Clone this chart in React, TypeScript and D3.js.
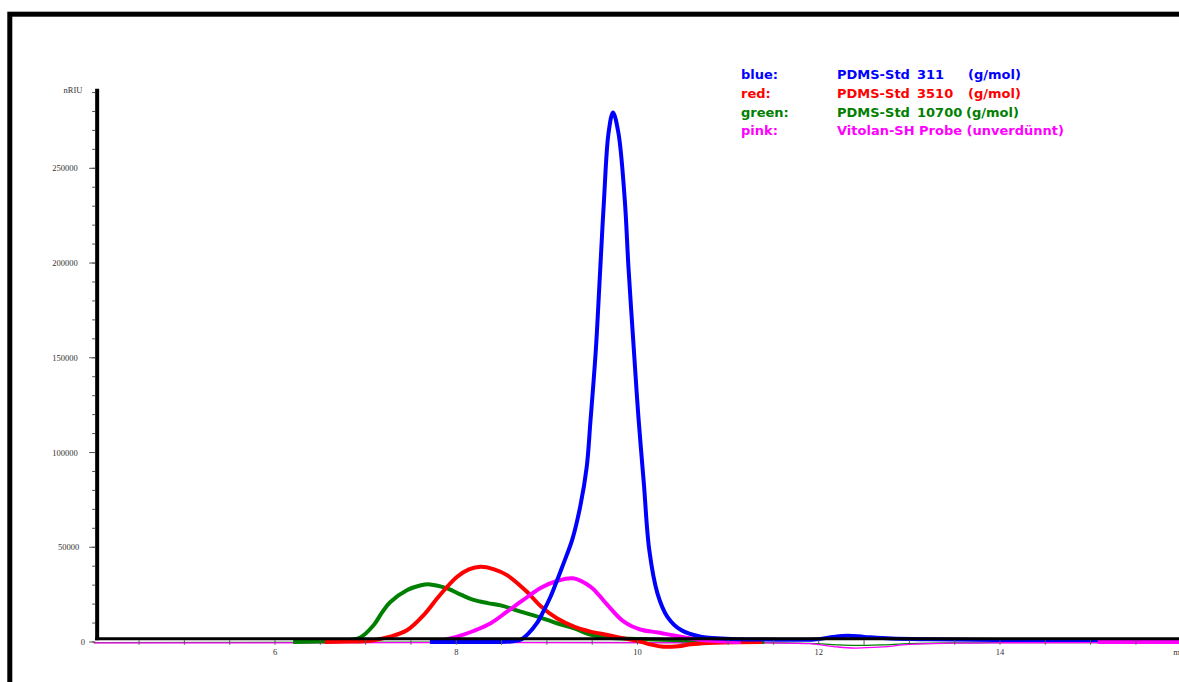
import React from "react";
import * as d3 from "d3";

const W = 1179;
const H = 682;

// ---- data (retention time in min, signal in nRIU) ----
const blueT = [7.71, 8.2, 8.49, 8.6, 8.71, 8.8, 8.89, 8.96, 9.04, 9.1, 9.17, 9.22, 9.28, 9.37, 9.44, 9.48, 9.54, 9.59, 9.63, 9.68, 9.73, 9.79, 9.86, 9.9, 9.96, 10.01, 10.07, 10.13, 10.22, 10.33, 10.48, 10.7, 11.14, 11.6, 11.95, 12.15, 12.32, 12.5, 12.8, 13.2, 14.0, 15.08];
const blueV = [0, 0, 0, 300, 1200, 4700, 9900, 16000, 23900, 31000, 39700, 46000, 54000, 72000, 92500, 116000, 154000, 198000, 233000, 268500, 279500, 268500, 233000, 198000, 154000, 118800, 83700, 48500, 25700, 13300, 6300, 2800, 1500, 1200, 1300, 2600, 3300, 2700, 1800, 1400, 1100, 1000];

const redT = [6.55, 6.8, 7.05, 7.27, 7.46, 7.64, 7.82, 8.01, 8.14, 8.27, 8.41, 8.56, 8.78, 8.93, 9.11, 9.3, 9.48, 9.67, 9.85, 10.03, 10.15, 10.29, 10.45, 10.59, 10.78, 10.95, 11.38];
const redV = [0, 200, 700, 2800, 6300, 14200, 24800, 34400, 38300, 39700, 38500, 35300, 26500, 19000, 12500, 8100, 5500, 3700, 1900, 200, -1400, -2500, -2200, -1200, -500, -200, 0];

const greenT = [6.2, 6.5, 6.72, 6.94, 7.09, 7.18, 7.27, 7.46, 7.6, 7.71, 7.9, 8.05, 8.19, 8.35, 8.49, 8.71, 8.93, 9.11, 9.3, 9.48, 9.67, 10.03, 10.4, 10.77, 11.14, 11.4];
const greenV = [0, 200, 600, 2400, 9000, 15500, 21000, 27400, 29800, 30400, 28300, 25000, 22200, 20500, 19300, 16000, 12900, 9900, 7200, 3900, 2300, 1600, 1000, 500, 200, 0];

const pinkT = [7.71, 7.85, 8.01, 8.19, 8.38, 8.56, 8.74, 8.93, 9.11, 9.29, 9.48, 9.57, 9.67, 9.85, 10.03, 10.23, 10.4, 10.59, 10.77, 11.14];
const pinkV = [0, 1000, 2800, 5800, 9900, 16000, 22200, 28500, 32200, 33600, 29200, 25000, 19500, 10700, 6600, 5000, 3400, 1800, 800, 0];

const pinkTailT = [15.08, 16.6];
const pinkTailV = [0, 0];

// thin overlaid traces near the baseline
const thinT = [4.0, 11.4, 11.9, 12.2, 12.4, 12.7, 13.0, 13.5, 14.0, 16.6];
const thinGreenV = [-300, -300, -700, -1500, -1800, -1500, -900, -500, -300, -300];
const thinPinkV = [-500, -500, -900, -2600, -3200, -2600, -1300, -600, -400, -400];

// ---- axes ----
const xMajorTicks = [6, 8, 10, 12, 14, 16];
const xTickLabels = ["6", "8", "10", "12", "14", "min"];
const xMinorTicks = d3.range(4.5, 16.01, 0.5);
const yMajorTicks = [0, 50000, 100000, 150000, 200000, 250000];
const yTickLabels = ["0", "50000", "100000", "150000", "200000", "250000"];
const yMinorTicks = d3.range(0, 290001, 10000);
const yUnit = "nRIU";

// ---- legend ----
const legendNames = ["blue:", "red:", "green:", "pink:"];
const legendSamples = ["PDMS-Std", "PDMS-Std", "PDMS-Std", "Vitolan-SH Probe (unverdünnt)"];
const legendMw = ["311", "3510", "10700", ""];
const legendUnit = ["(g/mol)", "(g/mol)", "(g/mol)", ""];
const colors = ["#0000ff", "#ff0000", "#008000", "#ff00ff"];

const x = d3.scaleLinear().domain([6, 14]).range([275, 1000]);
const y = d3.scaleLinear().domain([0, 250000]).range([642, 168.3]);

const line = d3
  .line<[number, number]>()
  .x((d) => x(d[0]))
  .y((d) => y(d[1]))
  .curve(d3.curveCatmullRom.alpha(0.5));

const zip = (t: number[], v: number[]) => t.map((ti, i) => [ti, v[i]] as [number, number]);

export default function App() {
  const axisX = x(4) + 3.4;
  const axisYLine = y(0) - 3.3;
  const yTop = y(292000);
  const legendX = [741, 837, 917, 968];
  const legendY0 = 79;
  const legendDy = 18.8;
  const tickFont = "'Liberation Serif', 'DejaVu Serif', serif";
  const last = xMajorTicks.length - 1;
  return (
    <div style={{ position: "fixed", left: 0, top: 0 }}>
      <svg width={W} height={H} viewBox={`0 0 ${W} ${H}`} style={{ display: "block", background: "#fff" }}>
        <rect x={0} y={0} width={W} height={H} fill="#fff" />
        <rect x={9.8} y={14.2} width={1400} height={1000} fill="none" stroke="#000" strokeWidth={5} />

        {/* thin traces */}
        <path d={line(zip(thinT, thinGreenV)) || ""} fill="none" stroke="#008000" strokeWidth={1.3} />
        <path d={line(zip(thinT, thinPinkV)) || ""} fill="none" stroke="#ff00ff" strokeWidth={1.3} />

        {/* main traces */}
        <path d={line(zip(greenT, greenV)) || ""} fill="none" stroke={colors[2]} strokeWidth={4} strokeLinejoin="round" />
        <path d={line(zip(redT, redV)) || ""} fill="none" stroke={colors[1]} strokeWidth={4} strokeLinejoin="round" />
        <path d={line(zip(pinkT, pinkV)) || ""} fill="none" stroke={colors[3]} strokeWidth={4} strokeLinejoin="round" />
        <path d={line(zip(blueT, blueV)) || ""} fill="none" stroke={colors[0]} strokeWidth={4} strokeLinejoin="round" />
        <path d={line(zip(pinkTailT, pinkTailV)) || ""} fill="none" stroke={colors[3]} strokeWidth={4} />

        {/* x axis */}
        <line x1={axisX - 2} x2={W + 10} y1={axisYLine} y2={axisYLine} stroke="#000" strokeWidth={3} />
        {xMinorTicks.map((t) => (
          <line key={"xm" + t} x1={x(t)} x2={x(t)} y1={axisYLine + 1.5} y2={axisYLine + 6} stroke="#555" strokeWidth={1} />
        ))}
        {xMajorTicks.map((t, i) => (
          <text key={"xl" + t} x={i === last ? x(t) - 8 : x(t)} y={655} textAnchor={i === last ? "start" : "middle"} fontFamily={tickFont} fontSize={8.5} fill="#333">
            {xTickLabels[i]}
          </text>
        ))}

        {/* y axis */}
        <line x1={axisX} x2={axisX} y1={yTop} y2={axisYLine + 1.5} stroke="#000" strokeWidth={4} />
        {yMinorTicks.map((v) => (
          <line key={"ym" + v} x1={axisX - 5} x2={axisX - 2} y1={y(v)} y2={y(v)} stroke="#555" strokeWidth={1} />
        ))}
        {yMajorTicks.map((v) => (
          <line key={"yM" + v} x1={axisX - 8} x2={axisX - 2} y1={y(v)} y2={y(v)} stroke="#555" strokeWidth={1} />
        ))}
        {yMajorTicks.map((v, i) => (
          <text key={"yl" + v} x={86.5 - 1.45 * yTickLabels[i].length} y={y(v) + 3} textAnchor="end" fontFamily={tickFont} fontSize={8.5} fill="#333">
            {yTickLabels[i]}
          </text>
        ))}
        <text x={82.5} y={y(290000)} textAnchor="end" fontFamily={tickFont} fontSize={8.5} fill="#333">
          {yUnit}
        </text>

        {/* legend */}
        {legendNames.map((n, i) => (
          <g key={"lg" + i} fill={colors[i]} fontFamily="'DejaVu Sans', Verdana, sans-serif" fontWeight="bold" fontSize={13}>
            <text x={legendX[0]} y={legendY0 + i * legendDy}>{n}</text>
            <text x={legendX[1]} y={legendY0 + i * legendDy}>{legendSamples[i]}</text>
            {legendMw[i] && <text x={legendX[2]} y={legendY0 + i * legendDy}>{legendMw[i]}</text>}
            {legendUnit[i] && (
              <text x={i === 2 ? legendX[3] - 2 : legendX[3]} y={legendY0 + i * legendDy}>{legendUnit[i]}</text>
            )}
          </g>
        ))}
      </svg>
    </div>
  );
}
